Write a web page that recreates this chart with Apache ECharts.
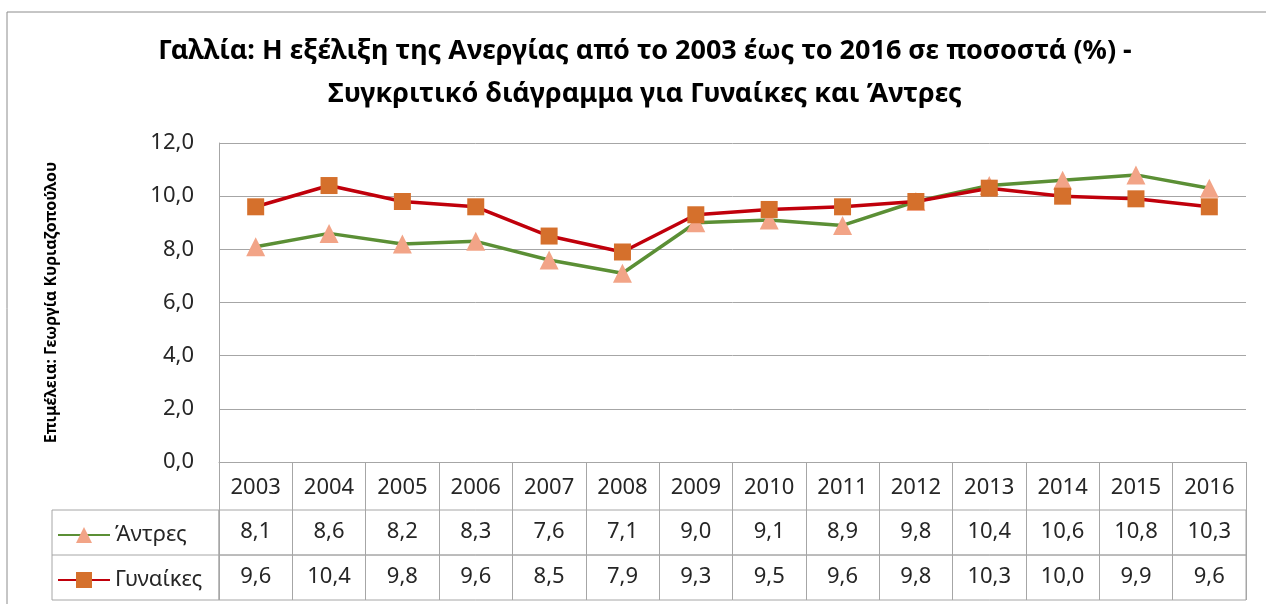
<!DOCTYPE html>
<html>
<head>
<meta charset="utf-8">
<script src="https://cdn.jsdelivr.net/npm/echarts@6/dist/echarts.min.js"></script>
<style>
  html, body { margin: 0; padding: 0; background: #fff; }
  #main { width: 1266px; height: 604px; }
</style>
</head>
<body>
<div id="main"></div>
<script>
var years = ['2003', '2004', '2005', '2006', '2007', '2008', '2009', '2010', '2011', '2012', '2013', '2014', '2015', '2016'];
var men = [8.1, 8.6, 8.2, 8.3, 7.6, 7.1, 9.0, 9.1, 8.9, 9.8, 10.4, 10.6, 10.8, 10.3];
var women = [9.6, 10.4, 9.8, 9.6, 8.5, 7.9, 9.3, 9.5, 9.6, 9.8, 10.3, 10.0, 9.9, 9.6];
var yTicks = [0, 2, 4, 6, 8, 10, 12];

var fontMain = 'Noto Sans';
var gray = '#a6a6a6';
var txt = '#262626';

function fmt(v) {
  return v.toFixed(1).replace('.', ',');
}

var chartDom = document.getElementById('main');
var myChart = echarts.init(chartDom);
var option;

// cell rows of the data table are extra grids sharing the plot's columns
function tableAxis(idx, values) {
  return {
    type: 'category',
    gridIndex: idx,
    data: years,
    position: 'top',
    boundaryGap: true,
    axisLine: { show: false },
    axisTick: { show: false },
    splitLine: { show: true, interval: 0, lineStyle: { color: gray, width: 1 } },
    axisLabel: {
      inside: true,
      interval: 0,
      margin: 11,
      fontSize: 22,
      fontFamily: fontMain,
      color: txt,
      formatter: function (v, i) { return fmt(values[i]); }
    }
  };
}

option = {
  animation: false,
  title: {
    text: 'Γαλλία: Η εξέλιξη της Ανεργίας από το 2003 έως το 2016 σε ποσοστά (%) -\nΣυγκριτικό διάγραμμα για Γυναίκες και Άντρες',
    left: 640,
    top: 25,
    textAlign: 'center',
    textStyle: {
      fontFamily: fontMain,
      fontWeight: 'bold',
      fontSize: 27,
      lineHeight: 43,
      color: '#000'
    }
  },
  legend: [
    {
      data: ['Άντρες'],
      left: 57, top: 524, padding: 0,
      itemWidth: 52, itemHeight: 20, itemGap: 4,
      textStyle: { fontSize: 22, fontFamily: fontMain, color: txt }
    },
    {
      data: ['Γυναίκες'],
      left: 57, top: 569, padding: 0,
      itemWidth: 52, itemHeight: 20, itemGap: 4,
      textStyle: { fontSize: 22, fontFamily: fontMain, color: txt }
    }
  ],
  grid: [
    { left: 219, right: 20, top: 143, height: 319 },
    { left: 219, right: 20, top: 510, height: 45, show: true, borderColor: gray, borderWidth: 1 },
    { left: 219, right: 20, top: 555, height: 45, show: true, borderColor: gray, borderWidth: 1 }
  ],
  xAxis: [
    {
      type: 'category',
      gridIndex: 0,
      data: years,
      boundaryGap: true,
      axisLine: { lineStyle: { color: gray } },
      axisTick: { show: true, interval: 0, length: 48, lineStyle: { color: gray } },
      axisLabel: { interval: 0, margin: 15, fontSize: 22, fontFamily: fontMain, color: txt }
    },
    tableAxis(1, men),
    tableAxis(2, women)
  ],
  yAxis: [
    {
      type: 'value',
      gridIndex: 0,
      min: yTicks[0],
      max: yTicks[yTicks.length - 1],
      interval: 2,
      name: 'Επιμέλεια: Γεωργία Κυριαζοπούλου',
      nameLocation: 'middle',
      nameRotate: 90,
      nameGap: 160,
      nameTextStyle: { fontFamily: fontMain, fontWeight: 'bold', fontSize: 16, color: '#000' },
      axisLine: { show: true, lineStyle: { color: gray } },
      axisTick: { show: false },
      splitLine: { lineStyle: { color: gray } },
      axisLabel: { margin: 25, fontSize: 22, fontFamily: fontMain, color: txt, formatter: fmt }
    },
    { type: 'value', gridIndex: 1, show: false },
    { type: 'value', gridIndex: 2, show: false }
  ],
  graphic: [
    {
      type: 'rect',
      shape: { x: 7, y: 12, width: 1300, height: 700 },
      style: { fill: 'none', stroke: '#8c8c8c', lineWidth: 1 },
      silent: true
    },
    {
      type: 'rect',
      shape: { x: 52, y: 510, width: 167, height: 90 },
      style: { fill: 'none', stroke: gray, lineWidth: 1 },
      silent: true
    },
    {
      type: 'line',
      shape: { x1: 52, y1: 555, x2: 219, y2: 555 },
      style: { stroke: gray, lineWidth: 1 },
      silent: true
    }
  ],
  series: [
    {
      name: 'Άντρες',
      type: 'line',
      xAxisIndex: 0,
      yAxisIndex: 0,
      data: men,
      symbol: 'triangle',
      symbolSize: 19,
      lineStyle: { color: '#5b8f35', width: 3.5 },
      itemStyle: { color: '#f2a487' }
    },
    {
      name: 'Γυναίκες',
      type: 'line',
      xAxisIndex: 0,
      yAxisIndex: 0,
      data: women,
      symbol: 'rect',
      symbolSize: 17,
      lineStyle: { color: '#c0000b', width: 3.5 },
      itemStyle: { color: '#d5702c' }
    }
  ]
};

option && myChart.setOption(option);
</script>
</body>
</html>
